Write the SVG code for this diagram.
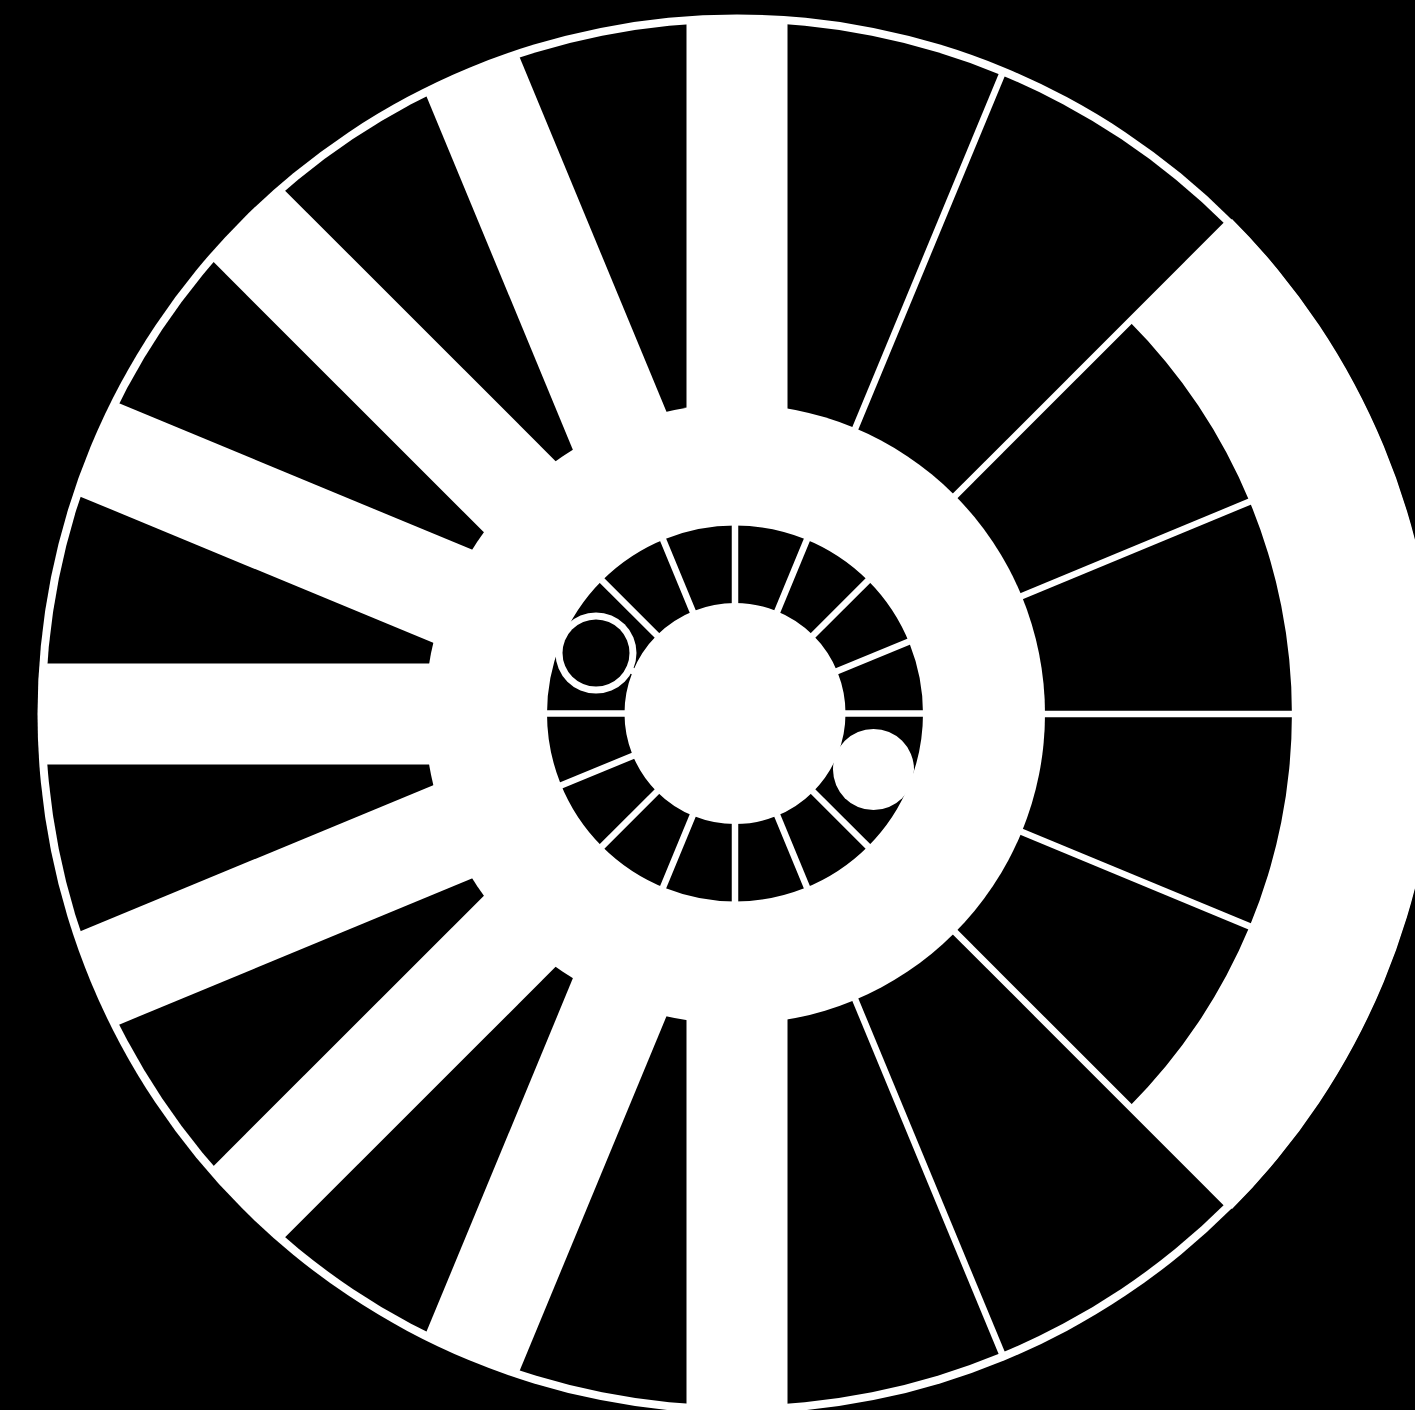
<svg xmlns="http://www.w3.org/2000/svg" width="1415" height="1410" viewBox="0 0 1415 1410">
  <style>
    .w { fill: #ffffff; }
    .b { fill: #000000; }
    .spoke { stroke: #ffffff; stroke-width: 101; stroke-linecap: butt; fill: none; }
    .div { stroke: #ffffff; stroke-width: 6.5; stroke-linecap: butt; fill: none; }
    .idiv { stroke: #ffffff; stroke-width: 6.5; stroke-linecap: butt; fill: none; }
  </style>
  <rect id="background" x="0" y="0" width="1415" height="1410" class="b"/>
  <g id="outer-wheel">
    <circle cx="737" cy="714" r="699.5" class="w"/>
    <circle cx="737" cy="714" r="691.5" class="b"/>
    <path id="right-band" class="w" d="M 1129.4 321.6 L 1232 219 A 700 700 0 0 1 1232 1209 L 1129.4 1106.4 A 555 555 0 0 0 1129.4 321.6 Z"/>
  </g>
  <g id="spokes">
    <line class="spoke" x1="737" y1="414" x2="737" y2="19"/>
    <line class="spoke" x1="622.2" y1="436.8" x2="471.0" y2="71.9"/>
    <line class="spoke" x1="524.9" y1="501.9" x2="245.6" y2="222.6"/>
    <line class="spoke" x1="459.8" y1="599.2" x2="94.9" y2="448.0"/>
    <line class="spoke" x1="437" y1="714" x2="42" y2="714"/>
    <line class="spoke" x1="459.8" y1="828.8" x2="94.9" y2="980.0"/>
    <line class="spoke" x1="524.9" y1="926.1" x2="245.6" y2="1205.4"/>
    <line class="spoke" x1="622.2" y1="991.2" x2="471.0" y2="1356.1"/>
    <line class="spoke" x1="737" y1="1014" x2="737" y2="1409"/>
  </g>
  <g id="outer-dividers">
    <line class="div" x1="851.8" y1="436.8" x2="1003.0" y2="71.9"/>
    <line class="div" x1="949.1" y1="501.9" x2="1228.4" y2="222.6"/>
    <line class="div" x1="1014.2" y1="599.2" x2="1379.1" y2="448.0"/>
    <line class="div" x1="1037" y1="714" x2="1432" y2="714"/>
    <line class="div" x1="1014.2" y1="828.8" x2="1379.1" y2="980.0"/>
    <line class="div" x1="949.1" y1="926.1" x2="1228.4" y2="1205.4"/>
    <line class="div" x1="851.8" y1="991.2" x2="1003.0" y2="1356.1"/>
  </g>
  <circle id="middle-ring" cx="735" cy="714" r="310" class="w"/>
  <g id="inner-ring">
    <circle cx="735" cy="713.5" r="149.25" fill="none" stroke="#000000" stroke-width="77.5"/>
    <line class="idiv" x1="840" y1="713.5" x2="930" y2="713.5"/>
    <line class="idiv" x1="832.0" y1="673.3" x2="915.2" y2="638.9"/>
    <line class="idiv" x1="809.2" y1="639.3" x2="872.9" y2="575.6"/>
    <line class="idiv" x1="775.2" y1="616.5" x2="809.6" y2="533.3"/>
    <line class="idiv" x1="735" y1="608.5" x2="735" y2="518.5"/>
    <line class="idiv" x1="694.8" y1="616.5" x2="660.4" y2="533.3"/>
    <line class="idiv" x1="660.8" y1="639.3" x2="597.1" y2="575.6"/>
    <line class="idiv" x1="638.0" y1="673.3" x2="554.8" y2="638.9"/>
    <line class="idiv" x1="630" y1="713.5" x2="540" y2="713.5"/>
    <line class="idiv" x1="638.0" y1="753.7" x2="554.8" y2="788.1"/>
    <line class="idiv" x1="660.8" y1="787.7" x2="597.1" y2="851.4"/>
    <line class="idiv" x1="694.8" y1="810.5" x2="660.4" y2="893.7"/>
    <line class="idiv" x1="735" y1="818.5" x2="735" y2="908.5"/>
    <line class="idiv" x1="775.2" y1="810.5" x2="809.6" y2="893.7"/>
    <line class="idiv" x1="809.2" y1="787.7" x2="872.9" y2="851.4"/>
    <line class="idiv" x1="832.0" y1="753.7" x2="915.2" y2="788.1"/>
  </g>
  <g id="ring-circle-dark">
    <circle cx="596" cy="653" r="40.5" class="w"/>
    <circle cx="596" cy="653" r="33.5" class="b"/>
  </g>
  <g id="ring-circle-light">
    <circle cx="873.5" cy="769.5" r="40.5" class="w"/>
  </g>
</svg>
